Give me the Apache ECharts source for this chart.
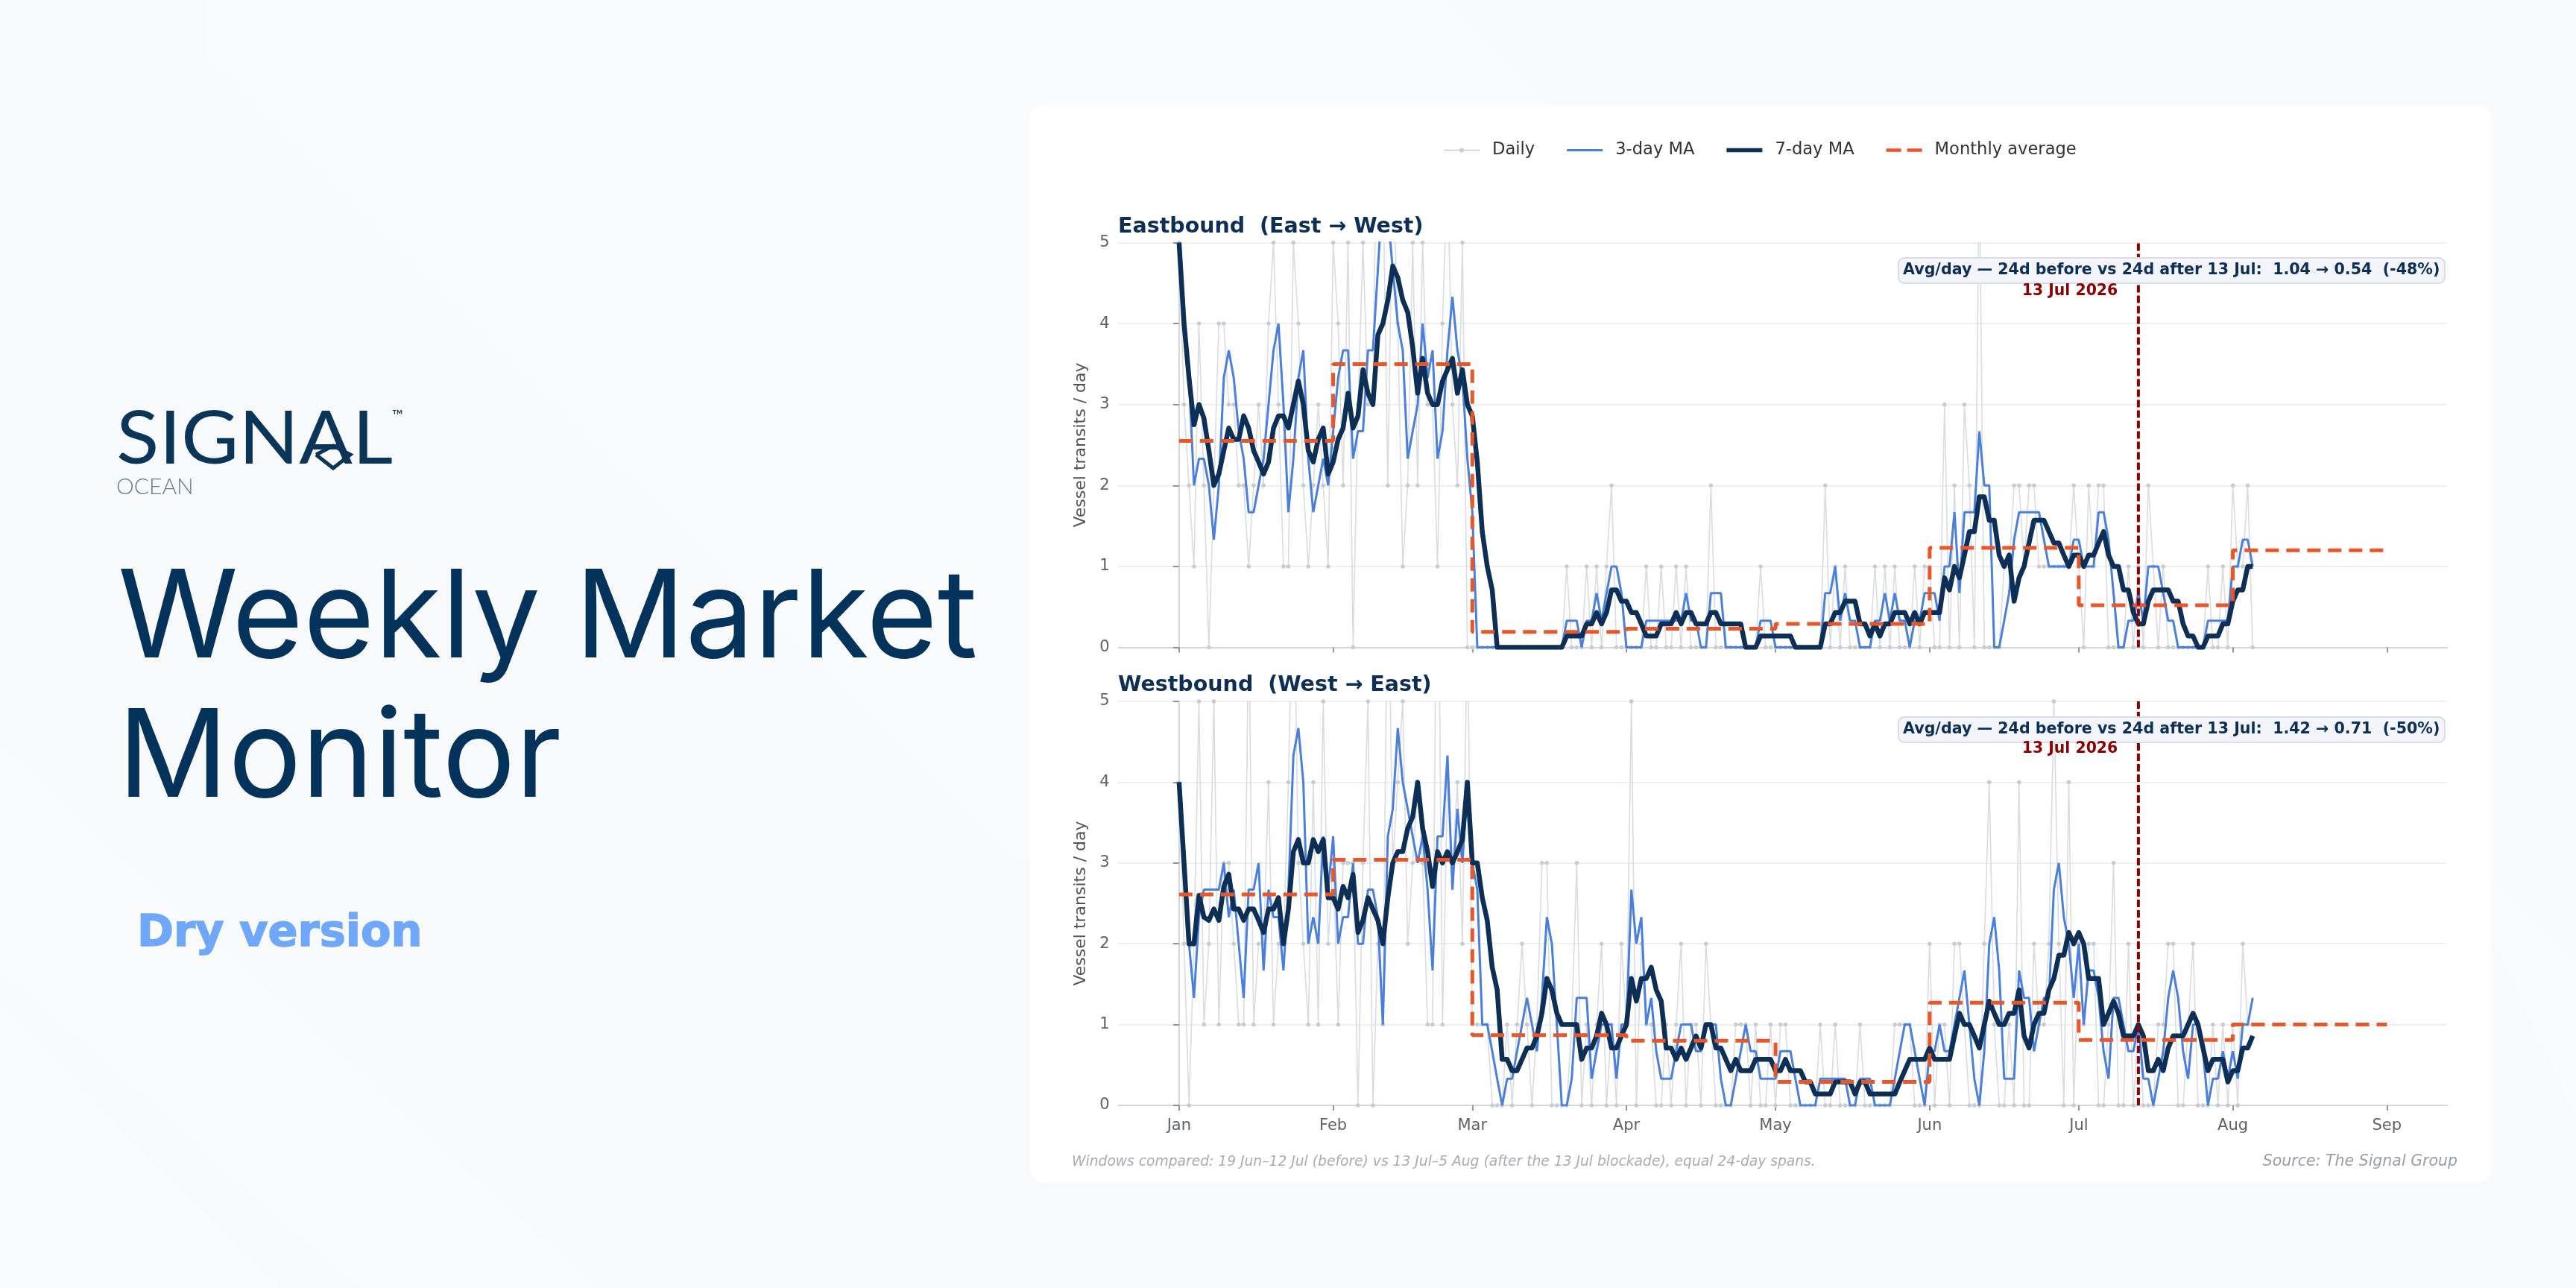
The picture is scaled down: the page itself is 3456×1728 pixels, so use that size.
<!DOCTYPE html>
<html><head><meta charset="utf-8">
<style>html,body{margin:0;padding:0;background:#f8f9fb}#c{width:3456px;height:1728px}</style>
<script src="https://cdn.jsdelivr.net/npm/echarts@6/dist/echarts.min.js"></script>
</head><body><div id="c"></div>
<script>
const monthStarts=[0,31,59,90,120,151,181,212,243];
const monthLabels=['Jan','Feb','Mar','Apr','May','Jun','Jul','Aug','Sep'];
const cutoffDay=193;
const yTop=5;
const eastDaily=[5,3,2,1,4,2,0,2,4,4,3,3,2,2,1,2,3,2,4,5,3,1,1,5,4,2,1,2,3,2,1,
5,4,2,5,0,3,5,3,3,8,6,2,6,4,1,2,5,2,5,3,3,1,4,6,3,2,5,0,
0,0,0,0,0,0,0,0,0,0,0,0,0,0,0,0,0,0,0,1,0,0,0,1,0,1,0,1,2,0,0,
0,0,0,0,1,0,0,1,0,0,1,0,1,0,0,0,0,2,0,0,0,0,0,0,0,0,0,1,0,0,
0,0,0,0,0,0,0,0,0,0,2,0,1,0,1,0,0,0,0,0,1,0,1,0,1,0,0,0,1,0,1,
1,0,0,3,0,2,0,3,2,0,6,0,0,0,0,1,1,2,2,1,2,2,1,1,1,1,1,1,1,2,
1,0,2,1,2,2,0,0,0,0,1,0,1,0,2,1,0,1,0,0,0,0,0,0,0,0,1,0,0,1,0,
2,1,1,2,0];
const eastMA3=[5,4,3.33,2,2.33,2.33,2,1.33,2,3.33,3.67,3.33,2.67,2.33,1.67,1.67,2,2.33,3,3.67,4,3,1.67,2.33,3.33,3.67,2.33,1.67,2,2.33,2,
2.67,3.33,3.67,3.67,2.33,2.67,2.67,3.67,3.67,4.67,5.67,5.33,4.67,4,3.67,2.33,2.67,3,4,3.33,3.67,2.33,2.67,3.67,4.33,3.67,3.33,2.33,
1.67,0,0,0,0,0,0,0,0,0,0,0,0,0,0,0,0,0,0,.33,.33,.33,0,.33,.33,.67,.33,.67,1,1,.67,
0,0,0,0,.33,.33,.33,.33,.33,.33,.33,.33,.67,.33,.33,0,0,.67,.67,.67,0,0,0,0,0,0,0,.33,.33,.33,
0,0,0,0,0,0,0,0,0,0,.67,.67,1,.33,.67,.33,.33,0,0,0,.33,.33,.67,.33,.67,.33,.33,0,.33,.33,.67,
.67,.67,.33,1,1,1.67,.67,1.67,1.67,1.67,2.67,2,2,0,0,.33,.67,1.33,1.67,1.67,1.67,1.67,1.67,1.33,1,1,1,1,1,1.33,
1.33,1,1,1,1.67,1.67,1.33,.67,0,0,.33,.33,.67,.33,1,1,1,.67,.33,.33,0,0,0,0,0,0,.33,.33,.33,.33,.33,
1,1,1.33,1.33,1];
const eastMA7=[5,4,3.33,2.75,3,2.83,2.43,2,2.14,2.43,2.71,2.57,2.57,2.86,2.71,2.43,2.29,2.14,2.29,2.71,2.86,2.86,2.71,3,3.29,3,2.43,2.29,2.57,2.71,2.14,
2.29,2.57,2.71,3.14,2.71,2.86,3.43,3.14,3,3.86,4,4.29,4.71,4.57,4.29,4.14,3.71,3.14,3.57,3.14,3,3,3.29,3.43,3.57,3.14,3.43,3,
2.86,2.29,1.43,1,.71,0,0,0,0,0,0,0,0,0,0,0,0,0,0,.14,.14,.14,.14,.29,.29,.43,.29,.43,.71,.71,.57,
.57,.43,.43,.29,.14,.14,.14,.29,.29,.29,.43,.29,.43,.43,.29,.29,.29,.43,.43,.29,.29,.29,.29,.29,0,0,0,.14,.14,.14,
.14,.14,.14,.14,0,0,0,0,0,0,.29,.29,.43,.43,.57,.57,.57,.29,.29,.14,.29,.14,.29,.29,.43,.43,.43,.29,.43,.29,.43,
.43,.43,.43,.86,.71,1,.86,1.14,1.43,1.43,1.86,1.86,1.57,1.57,1.14,1,1.14,.57,.86,1,1.29,1.57,1.57,1.57,1.43,1.29,1.29,1.14,1,1.14,
1.14,1,1.14,1.14,1.29,1.43,1.14,1,1,.71,.71,.43,.29,.29,.57,.71,.71,.71,.71,.57,.57,.29,.14,.14,0,0,.14,.14,.14,.29,.29,
.57,.71,.71,1,1];
const eastMonthly=[2.55,3.5,.19,.23,.29,1.23,.52,1.2];
const westDaily=[4,2,0,2,5,1,2,5,1,3,3,2,1,1,6,1,2,2,4,1,2,2,4,7,3,2,1,4,1,5,2,
3,1,3,3,3,0,3,5,0,2,1,7,3,4,5,2,3,4,3,1,1,8,1,4,3,4,2,6,
1,1,1,1,0,0,0,1,0,1,2,1,0,1,3,3,0,0,0,0,1,3,0,1,0,1,2,0,1,0,2,
1,5,0,2,1,1,0,0,1,0,1,2,0,1,1,0,2,1,0,0,0,0,1,1,1,0,1,0,0,1,
0,1,1,0,0,0,0,0,0,1,0,0,1,0,0,0,0,1,0,0,0,0,0,0,1,1,1,1,0,0,0,
2,0,1,1,0,2,2,1,0,0,0,2,4,1,0,0,1,0,4,0,0,2,1,1,2,5,2,0,4,0,
2,1,2,2,0,0,1,3,0,0,2,0,1,0,0,0,1,1,2,2,0,0,1,2,0,0,0,1,0,1,0,
1,0,2,1,1];
const westMA3=[4,3,2,1.33,2.33,2.67,2.67,2.67,2.67,3,2.33,2.67,2,1.33,2.67,2.67,3,1.67,2.67,2.33,2.33,1.67,2.67,4.33,4.67,4,2,2.33,2,3.33,2.67,
3.33,2,2.33,2.33,3,2,2,2.67,2.67,2.33,1,3.33,3.67,4.67,4,3.67,3.33,3,3.33,2.67,1.67,3.33,3.33,4.33,2.67,3.67,3,4,
3,2.67,1,1,.67,.33,0,.33,.33,.67,1,1.33,1,.67,1.33,2.33,2,1,0,0,.33,1.33,1.33,1.33,.33,.67,1,1,1,.33,1,
1,2.67,2,2.33,1,1.33,.67,.33,.33,.33,.67,1,1,1,.67,.67,1,1,1,.33,0,0,.33,.67,1,.67,.67,.33,.33,.33,
.33,.67,.67,.67,.33,0,0,0,0,.33,.33,.33,.33,.33,.33,0,0,.33,.33,.33,0,0,0,0,.33,.67,1,1,.67,.33,0,
.67,.67,1,.67,.67,1,1.33,1.67,1,.33,0,.67,2,2.33,1.67,.33,.33,.33,1.67,1.33,1.33,.67,1,1.33,1.33,2.67,3,2.33,2,1.33,
2,1,1.67,1.67,1.33,.67,.33,1.33,1.33,1,.67,.67,1,.33,.33,0,.33,.67,1.33,1.67,1.33,.67,.33,1,1,.67,0,.33,.33,.67,.33,
.67,.33,1,1,1.33];
const westMA7=[4,3,2,2,2.6,2.33,2.29,2.43,2.29,2.71,2.86,2.43,2.43,2.29,2.43,2.43,2.29,2.14,2.43,2.43,2.57,2,2.43,3.14,3.29,3,3,3.29,3.14,3.29,2.57,
2.57,2.43,2.71,2.57,2.86,2.14,2.29,2.57,2.43,2.29,2,2.57,3,3.14,3.14,3.43,3.57,4,3.43,3.14,2.71,3.14,3,3.14,3,3.14,3.29,4,
3,3,2.57,2.29,1.71,1.43,.57,.57,.43,.43,.57,.71,.71,.86,1.14,1.57,1.43,1.14,1,1,1,1,.57,.71,.71,.86,1.14,1,.71,.71,.86,
1,1.57,1.29,1.57,1.57,1.71,1.43,1.29,.71,.71,.57,.71,.57,.71,.86,.71,1,1,.71,.71,.57,.43,.57,.43,.43,.43,.57,.57,.57,.57,
.43,.43,.57,.43,.43,.43,.29,.29,.14,.14,.14,.14,.29,.29,.29,.29,.14,.29,.29,.14,.14,.14,.14,.14,.14,.29,.43,.57,.57,.57,.57,
.71,.57,.57,.57,.57,.86,1.14,1,1,.86,.71,1,1.29,1.14,1,1,1.14,1.14,1.43,.86,.71,1,1.14,1.14,1.43,1.57,1.86,1.86,2.14,2,
2.14,2,1.57,1.57,1.57,1,1.14,1.29,1.14,.86,.86,.86,1,.86,.43,.43,.57,.43,.71,.86,.86,.86,1,1.14,1,.71,.43,.57,.57,.57,.29,
.43,.43,.71,.71,.86];
const westMonthly=[2.61,3.04,.87,.8,.29,1.27,.81,1];

const NAVY='#0d2f55',BLUE='#4a80dc',RED='#e8572a',GREY='#d9dce1',DOT='#c8ccd2',DARK='#8b0000';
const FONT='"DejaVu Sans"';
const pts=a=>a.map((v,i)=>[i,v]);
const steps=a=>a.map((v,i)=>[monthStarts[i],v]).concat([[monthStarts[a.length],a[a.length-1]]]);
function panel(gi,d,m3,m7,mon){
  const ax={xAxisIndex:gi,yAxisIndex:gi,type:'line',animation:false,silent:true};
  return [
   {...ax,name:'Daily',data:pts(d),z:2,showSymbol:true,showAllSymbol:true,symbol:'circle',symbolSize:5.5,
    itemStyle:{color:DOT},lineStyle:{color:GREY,width:1.6}},
   {...ax,name:'3-day MA',data:pts(m3),z:3,symbol:'none',itemStyle:{color:BLUE},lineStyle:{color:BLUE,width:3}},
   {...ax,name:'7-day MA',data:pts(m7),z:4,symbol:'none',itemStyle:{color:NAVY},lineStyle:{color:NAVY,width:6.5,join:'round'}},
   {...ax,name:'Monthly average',data:steps(mon),z:5,step:'end',symbol:'none',itemStyle:{color:RED},
    lineStyle:{color:RED,width:5,type:[18,10]}},
   {...ax,name:'cutoff',data:[[cutoffDay,0],[cutoffDay,yTop]],z:6,symbol:'none',lineStyle:{color:DARK,width:4,type:[10,4]}}
  ];
}
function xa(gi,labels){return {gridIndex:gi,type:'value',min:-12.2,max:255.1,
  splitLine:{show:false},axisLine:{show:true,onZero:false,lineStyle:{color:'#d3d8e0',width:2}},
  axisTick:{show:true,customValues:monthStarts,length:7,lineStyle:{color:'#777',width:1.5}},
  axisLabel:{show:labels,customValues:monthStarts,margin:17,fontFamily:FONT,fontSize:21,color:'#5f6368',
    formatter:v=>monthLabels[monthStarts.indexOf(v)]}};}
function ya(gi){return {gridIndex:gi,type:'value',min:0,max:yTop,interval:1,
  name:'Vessel transits / day',nameLocation:'middle',nameGap:39,nameTextStyle:{fontFamily:FONT,fontSize:22,color:'#555'},
  splitLine:{show:true,lineStyle:{color:'#e8eaef',width:1.6}},
  axisLine:{show:true,lineStyle:{color:'#d3d8e0',width:2}},
  axisTick:{show:true,length:8,lineStyle:{color:'#777',width:1.5}},
  axisLabel:{margin:12,padding:[5,0,0,0],fontFamily:FONT,fontSize:21,color:'#5f6368'}};}
function box(y0,txt,yr){return [
  {type:'rect',z:100,shape:{x:2547,y:y0,width:733,height:34,r:8},style:{fill:'#f3f5fa',stroke:'#d8dce6',lineWidth:2}},
  {type:'text',z:101,x:2553,y:y0+17,style:{text:txt,fill:NAVY,font:'bold 20.6px '+FONT,textVerticalAlign:'middle',textAlign:'left'}},
  {type:'text',z:101,x:2777,y:yr,style:{text:'13 Jul 2026',fill:DARK,font:'bold 20.4px '+FONT,textVerticalAlign:'middle',textAlign:'center'}}
];}
const bgShapes=[
 [[275,0],[1940,0],[3000,1060],[1360,1153],[275,70]],
 [[0,1349],[375,1728],[0,1728]],
 [[0,1000],[800,1728],[480,1728],[0,1300]],
 [[3280,1120],[3456,1290],[3456,1500]]
];
const legendIcons={
 daily:'path://M0 0Z M48 20Z M0 9.2H48V10.8H0Z M24 7A3 3 0 1 1 24 13A3 3 0 1 1 24 7Z',
 ma3:'path://M0 0Z M48 20Z M0 8.5H48V11.5H0Z',
 ma7:'path://M0 0Z M48 20Z M0 7.2H48V12.8H0Z',
 month:'path://M0 0Z M48 20Z M0 7.7H20V12.3H0Z M28 7.7H48V12.3H28Z'
};
const graphic=[
 ...bgShapes.map(p=>({type:'polygon',z:-3,shape:{points:p},style:{fill:'#ffffff',opacity:0.32}})),
 {type:'rect',z:-2,shape:{x:1382,y:141,width:1961,height:1446,r:20},style:{fill:'#ffffff'}},
 {type:'text',z:10,x:156,y:590,scaleX:1.08,style:{text:'SIGNAL',fill:'#0b3558',font:'400 98px Lato',textVerticalAlign:'middle'}},
 {type:'polyline',z:11,shape:{points:[[424,610],[447,628],[470,610],[447,598],[424,610]]},style:{fill:'none',stroke:'#0b3558',lineWidth:5}},
 {type:'text',z:10,x:526,y:558,style:{text:'™',fill:'#0b3558',font:'20px Lato',textVerticalAlign:'middle'}},
 {type:'text',z:10,x:156,y:653,style:{text:'OCEAN',fill:'#5f7d94',font:'300 30px Lato',textVerticalAlign:'middle'}},
 {type:'text',z:10,x:158,y:751,style:{text:'Weekly Market',fill:'#03335a',font:'400 164px Inter'}},
 {type:'text',z:10,x:158,y:938,style:{text:'Monitor',fill:'#03335a',font:'400 164px Inter'}},
 {type:'text',z:10,x:184,y:1224,style:{text:'Dry version',fill:'#6fa8fa',stroke:'#6fa8fa',lineWidth:1.5,font:'bold 59px "DejaVu Sans"'}},
 ...box(346,'Avg/day — 24d before vs 24d after 13 Jul:  1.04 → 0.54  (-48%)',391),
 ...box(962,'Avg/day — 24d before vs 24d after 13 Jul:  1.42 → 0.71  (-50%)',1005),
 {type:'text',z:10,x:1438,y:1559,style:{text:'Windows compared: 19 Jun–12 Jul (before) vs 13 Jul–5 Aug (after the 13 Jul blockade), equal 24-day spans.',fill:'#a9adb3',font:'italic 18.7px '+FONT,textVerticalAlign:'middle'}},
 {type:'text',z:10,x:3297,y:1559,style:{text:'Source: The Signal Group',fill:'#9a9ea5',font:'italic 20.5px '+FONT,textVerticalAlign:'middle',textAlign:'right'}}
];
const chart=echarts.init(document.getElementById('c'),null,{renderer:'canvas',width:3456,height:1728});
chart.setOption({
 animation:false,backgroundColor:'#f8f9fb',
 title:[
  {text:'Eastbound  (East → West)',left:1500,top:290,padding:0,textStyle:{fontFamily:FONT,fontWeight:'bold',fontSize:28.5,color:NAVY}},
  {text:'Westbound  (West → East)',left:1500,top:905,padding:0,textStyle:{fontFamily:FONT,fontWeight:'bold',fontSize:28.5,color:NAVY}}
 ],
 legend:{data:[{name:'Daily',icon:legendIcons.daily},{name:'3-day MA',icon:legendIcons.ma3},{name:'7-day MA',icon:legendIcons.ma7},{name:'Monthly average',icon:legendIcons.month}],
   left:1932,top:185,itemWidth:48,itemHeight:20,itemGap:43,symbolKeepAspect:false,
   textStyle:{fontFamily:FONT,fontSize:22.6,color:'#333',padding:[0,0,0,12]},selectedMode:false},
 grid:[{left:1500.5,top:325.5,width:1782.5,height:543},{left:1500.5,top:941,width:1782.5,height:542}],
 xAxis:[xa(0,false),xa(1,true)],
 yAxis:[ya(0),ya(1)],
 series:[...panel(0,eastDaily,eastMA3,eastMA7,eastMonthly),...panel(1,westDaily,westMA3,westMA7,westMonthly)],
 graphic:{elements:graphic}
});
</script></body></html>
